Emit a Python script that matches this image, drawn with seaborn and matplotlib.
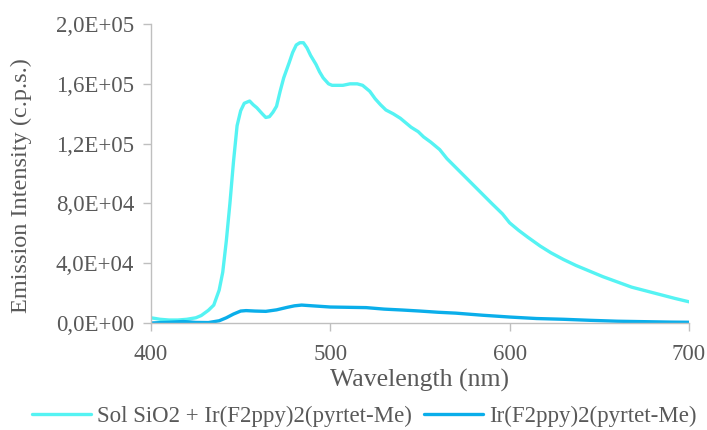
import numpy as np
import pandas as pd
import matplotlib
matplotlib.use("Agg")
import matplotlib.pyplot as plt
from matplotlib.ticker import FuncFormatter, FixedLocator
import seaborn as sns

# --- data ---
sol_nm = [400, 405, 410, 415, 420, 425, 428, 432, 435, 438, 440, 442, 444, 446, 447,
          448, 450, 452, 455, 457, 459, 462, 464, 466, 468, 470, 472, 474, 477, 479,
          481, 483, 485, 487, 489, 492, 494, 496, 499, 501, 504, 507, 511, 515, 518,
          520, 522, 525, 528, 531, 535, 539, 542, 545, 549, 552, 556, 561, 565, 570,
          575, 580, 585, 590, 596, 600, 605, 610, 617, 623, 630, 637, 645, 652, 660,
          668, 676, 684, 692, 700]
sol_val = [3.5e3, 2.5e3, 2.0e3, 2.0e3, 2.5e3, 3.5e3, 5.0e3, 8.5e3, 1.2e4, 2.2e4, 3.4e4, 5.5e4, 8.0e4, 1.08e5, 1.2e5,
           1.32e5, 1.42e5, 1.47e5, 1.485e5, 1.46e5, 1.44e5, 1.40e5, 1.375e5, 1.38e5, 1.41e5, 1.45e5, 1.55e5, 1.64e5, 1.74e5, 1.81e5,
           1.86e5, 1.875e5, 1.875e5, 1.84e5, 1.79e5, 1.73e5, 1.68e5, 1.64e5, 1.60e5, 1.59e5, 1.59e5, 1.59e5, 1.60e5, 1.60e5, 1.59e5,
           1.57e5, 1.55e5, 1.50e5, 1.46e5, 1.425e5, 1.40e5, 1.37e5, 1.34e5, 1.31e5, 1.28e5, 1.245e5, 1.21e5, 1.16e5, 1.10e5, 1.04e5,
           9.8e4, 9.2e4, 8.6e4, 8.0e4, 7.3e4, 6.7e4, 6.2e4, 5.75e4, 5.15e4, 4.7e4, 4.25e4, 3.85e4, 3.45e4, 3.1e4, 2.75e4,
           2.4e4, 2.15e4, 1.9e4, 1.65e4, 1.42e4]

ir_nm = [400, 410, 418, 425, 432, 438, 442, 446, 450, 453, 458, 464, 470, 476, 480,
         484, 490, 500, 510, 520, 530, 540, 550, 560, 570, 585, 600, 615, 630, 645,
         660, 675, 690, 700]
ir_val = [0, 500, 1000, 400, 300, 1500, 3500, 6000, 8000, 8300, 8000, 7800, 8800, 1.05e4, 1.15e4,
          1.2e4, 1.15e4, 1.07e4, 1.05e4, 1.03e4, 9.3e3, 8.7e3, 8.0e3, 7.2e3, 6.6e3, 5.2e3, 4.0e3, 3.0e3, 2.5e3, 1.8e3,
          1.2e3, 900, 600, 500]

label_sol = "Sol SiO2 + Ir(F2ppy)2(pyrtet-Me)"
label_ir = "Ir(F2ppy)2(pyrtet-Me)"

y_ticks = [0, 4e4, 8e4, 1.2e5, 1.6e5, 2.0e5]
x_ticks = [400, 500, 600, 700]

df = pd.concat([
    pd.DataFrame({"Wavelength": sol_nm, "Intensity": sol_val, "Sample": label_sol}),
    pd.DataFrame({"Wavelength": ir_nm, "Intensity": ir_val, "Sample": label_ir}),
])

sns.set_theme(style="white")
plt.rcParams["font.family"] = ["Liberation Serif", "DejaVu Serif"]

fig = plt.figure(figsize=(7.07, 4.30), dpi=100)
ax = fig.add_axes([0.2136, 0.2488, 0.7609, 0.6953])

palette = {label_sol: "#55F3F3", label_ir: "#0AAEEA"}
sns.lineplot(data=df, x="Wavelength", y="Intensity", hue="Sample", palette=palette,
             linewidth=2.4, ax=ax, estimator=None, sort=True, legend=True)

ax.set_xlim(400, 700)
ax.set_ylim(0, 2.0e5)
ax.xaxis.set_major_locator(FixedLocator(x_ticks))
ax.yaxis.set_major_locator(FixedLocator(y_ticks))

def sci_comma(v, pos):
    if v == 0:
        return "0,0E+00"
    exp = int(np.floor(np.log10(abs(v))))
    mant = v / 10 ** exp
    return f"{mant:.1f}".replace(".", ",") + f"E+{exp:02d}"

ax.yaxis.set_major_formatter(FuncFormatter(sci_comma))

for s in ["top", "right"]:
    ax.spines[s].set_visible(False)
for s in ["left", "bottom"]:
    ax.spines[s].set_color("#BFBFBF")
    ax.spines[s].set_linewidth(1.0)

ax.tick_params(axis="both", which="major", direction="out", length=6, width=1.0,
               color="#BFBFBF", labelcolor="#595959", labelsize=16.5,
               left=True, bottom=True)
ax.tick_params(axis="y", pad=6)
ax.tick_params(axis="x", pad=9)

ax.set_xlabel("Wavelength (nm)", fontsize=18.5, color="#595959", labelpad=3)
ax.set_ylabel("Emission Intensity (c.p.s.)", fontsize=17.5, color="#595959", labelpad=5)
ax.yaxis.set_label_coords(-0.222, 0.46)
ax.grid(False)

handles, labels = ax.get_legend_handles_labels()
ax.get_legend().remove()
leg = fig.legend(handles, labels, loc="lower center", bbox_to_anchor=(0.515, -0.04),
                 ncol=2, frameon=False, fontsize=16.5, handlelength=2.6,
                 handletextpad=0.25, columnspacing=0.5, labelcolor="#595959")
for line in leg.get_lines():
    line.set_linewidth(2.4)

fig.savefig("out.png", dpi=100, facecolor="white")
